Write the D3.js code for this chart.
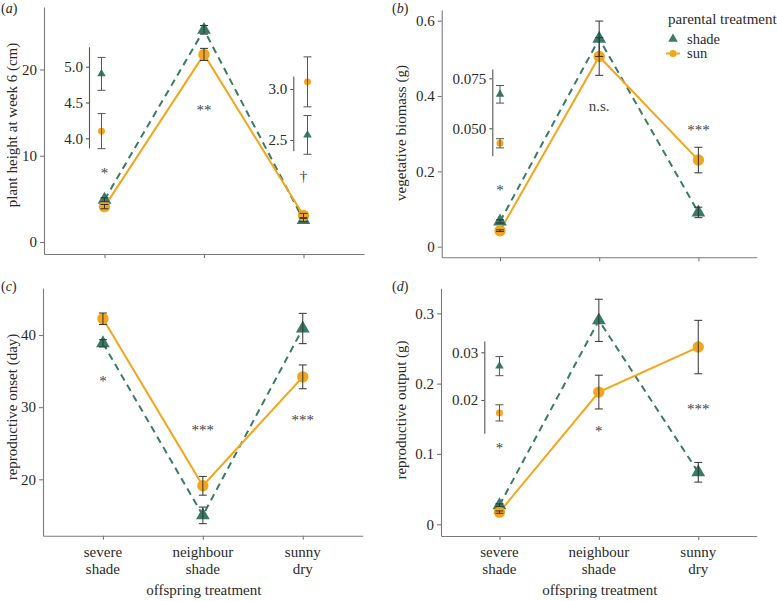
<!DOCTYPE html>
<html>
<head>
<meta charset="utf-8">
<script src="https://cdn.jsdelivr.net/npm/d3@7"></script>
<style>
  html, body { margin: 0; padding: 0; background: #fff; }
  svg, svg text { font-family: 'Liberation Serif', 'Times New Roman', Times, serif; }
</style>
</head>
<body>
<svg id="chart" width="777" height="601"></svg>
<script>
// ---------------- data ----------------
const categories = ["severe shade", "neighbour shade", "sunny dry"];
const categoryLines = [["severe", "shade"], ["neighbour", "shade"], ["sunny", "dry"]];
const seriesNames = ["shade", "sun"];

const heightShade = [4.9, 24.6, 2.55];
const heightShadeSE = [0.23, 0.5, 0.19];
const heightSun = [4.1, 21.75, 3.07];
const heightSunSE = [0.245, 0.7, 0.245];

const biomassShade = [0.067, 0.552, 0.091];
const biomassShadeSE = [0.0044, 0.047, 0.014];
const biomassSun = [0.0425, 0.505, 0.23];
const biomassSunSE = [0.0023, 0.05, 0.034];

const onsetShade = [38.85, 15.0, 40.9];
const onsetShadeSE = [0.5, 1.15, 2.1];
const onsetSun = [42.25, 19.1, 34.2];
const onsetSunSE = [0.8, 1.3, 1.65];

const outputShade = [0.0271, 0.290, 0.074];
const outputShadeSE = [0.002, 0.03, 0.014];
const outputSun = [0.0173, 0.188, 0.252];
const outputSunSE = [0.0017, 0.024, 0.038];

const heightTicks = [0, 10, 20];
const biomassTicks = [0, 0.2, 0.4, 0.6];
const onsetTicks = [20, 30, 40];
const outputTicks = [0, 0.1, 0.2, 0.3];

const heightSig = ["*", "**", "\u2020"];
const biomassSig = ["*", "n.s.", "***"];
const onsetSig = ["*", "***", "***"];
const outputSig = ["*", "*", "***"];

// ---------------- styles ----------------
const GREEN = "#3a7b65";
const ORANGE = "#f3a61c";
const AXIS = "#7a7a7a";
const TEXT = "#2a2a2a";
const FONT = "'Liberation Serif', 'Times New Roman', Times, serif";
const FS = 15;

const svg = d3.select("#chart");

// ---------------- layout ----------------
const panels = [
  { label: "a", title: "plant height at week 6 (cm)", xr: [44, 364], pad: 0.608,
    ref: [0, 242, 20, 69.5], ext: [254, 7], ticks: heightTicks, fmt: d3.format("d"),
    shade: heightShade, shadeSE: heightShadeSE, sun: heightSun, sunSE: heightSunSE,
    sig: heightSig, sigY: [8.3, 15.6, 7.5], labelPos: [1, 13], titlePos: [17, 125], xLabels: false,
    insets: [
      { idx: 0, axisX: 89, dx: -3, ref: [4.0, 138.3, 5.0, 66.7], ext: [148, 46.7], ticks: [4.0, 4.5, 5.0], fmt: d3.format(".1f") },
      { idx: 2, axisX: 293.3, dx: 4, ref: [2.5, 140, 3.0, 89], ext: [150.7, 76], ticks: [2.5, 3.0], fmt: d3.format(".1f") }
    ] },
  { label: "b", title: "vegetative biomass (g)", xr: [441.7, 756.7], pad: 0.588,
    ref: [0, 246.7, 0.6, 20.7], ext: [257.3, 10], ticks: biomassTicks, fmt: v => v === 0 ? "0" : d3.format(".1f")(v),
    shade: biomassShade, shadeSE: biomassShadeSE, sun: biomassSun, sunSE: biomassSunSE,
    sig: biomassSig, sigY: [0.159, 0.370, 0.317], labelPos: [392, 13], titlePos: [406, 133], xLabels: false,
    insets: [
      { idx: 0, axisX: 492.3, dx: 0, ref: [0.05, 128.3, 0.075, 78.3], ext: [155.7, 69], ticks: [0.05, 0.075], fmt: d3.format(".3f") }
    ] },
  { label: "c", title: "reproductive onset (day)", xr: [43, 362.7], pad: 0.6,
    ref: [20, 479.3, 40, 335], ext: [535.7, 288], ticks: onsetTicks, fmt: d3.format("d"),
    shade: onsetShade, shadeSE: onsetShadeSE, sun: onsetSun, sunSE: onsetSunSE,
    sig: onsetSig, sigY: [34.0, 27.3, 28.7], labelPos: [1, 291], titlePos: [17, 407], xLabels: true,
    insets: [] },
  { label: "d", title: "reproductive output (g)", xr: [441, 756.7], pad: 0.588,
    ref: [0, 524.3, 0.3, 313.3], ext: [536, 288.3], ticks: outputTicks, fmt: v => v === 0 ? "0" : d3.format(".1f")(v),
    shade: outputShade, shadeSE: outputShadeSE, sun: outputSun, sunSE: outputSunSE,
    sig: outputSig, sigY: [0.113, 0.137, 0.168], labelPos: [392, 291], titlePos: [406, 410], xLabels: true,
    insets: [
      { idx: 0, axisX: 484.3, dx: 0, ref: [0.02, 400, 0.03, 352.3], ext: [433.3, 341], ticks: [0.02, 0.03], fmt: d3.format(".2f") }
    ] }
];

function refScale(ref, ext) {
  const s0 = d3.scaleLinear().domain([ref[0], ref[2]]).range([ref[1], ref[3]]);
  return d3.scaleLinear().domain([s0.invert(ext[0]), s0.invert(ext[1])]).range(ext);
}

function styleAxis(g, color) {
  g.attr("font-family", FONT).attr("font-size", FS);
  g.selectAll("path.domain").attr("stroke", color).attr("stroke-width", 1.1);
  g.selectAll(".tick line").attr("stroke", color).attr("stroke-width", 1.1);
  g.selectAll(".tick text").attr("fill", TEXT).attr("font-size", FS).attr("font-family", FONT);
}

function txt(sel) {
  return sel.append("text").attr("font-family", FONT).attr("font-size", FS).attr("fill", TEXT);
}

const triMain = d3.symbol().type(d3.symbolTriangle).size(82);
const cirMain = d3.symbol().type(d3.symbolCircle).size(102);
const triSmall = d3.symbol().type(d3.symbolTriangle).size(32);
const cirSmall = d3.symbol().type(d3.symbolCircle).size(38);

function errorBars(g, xs, ys, vals, ses, cap, color) {
  vals.forEach((v, i) => {
    const cx = xs(i), y1 = ys(v + ses[i]), y2 = ys(v - ses[i]);
    g.append("line").attr("x1", cx).attr("x2", cx).attr("y1", y1).attr("y2", y2)
      .attr("stroke", color).attr("stroke-width", 1);
    [y1, y2].forEach(yy => g.append("line").attr("x1", cx - cap / 2).attr("x2", cx + cap / 2)
      .attr("y1", yy).attr("y2", yy).attr("stroke", color).attr("stroke-width", 1));
  });
}

panels.forEach(p => {
  const g = svg.append("g");
  const x = d3.scalePoint().domain(categories).range(p.xr).padding(p.pad);
  const y = refScale(p.ref, p.ext);
  const xi = i => x(categories[i]);

  // y axis
  const gy = g.append("g").attr("transform", `translate(${p.xr[0]},0)`)
    .call(d3.axisLeft(y).tickValues(p.ticks).tickFormat(p.fmt).tickSizeOuter(0).tickSizeInner(4).tickPadding(3));
  styleAxis(gy, AXIS);

  // x axis
  const gx = g.append("g").attr("transform", `translate(0,${p.ext[0]})`)
    .call(d3.axisBottom(x).tickSizeOuter(0).tickSizeInner(4).tickFormat(""));
  styleAxis(gx, AXIS);
  if (p.xLabels) {
    categories.forEach((c, i) => {
      const t = txt(g).attr("x", xi(i)).attr("text-anchor", "middle");
      categoryLines[i].forEach((ln, k) => {
        t.append("tspan").attr("x", xi(i)).attr("y", p.ext[0] + 21 + k * 17).text(ln);
      });
    });
    txt(g).attr("x", (p.xr[0] + p.xr[1]) / 2 + 1).attr("y", p.ext[0] + 59)
      .attr("text-anchor", "middle").text("offspring treatment");
  }

  // y title
  txt(g).attr("transform", `translate(${p.titlePos[0]},${p.titlePos[1]}) rotate(-90)`)
    .attr("text-anchor", "middle").text(p.title);

  // panel label
  const lab = txt(g).attr("x", p.labelPos[0]).attr("y", p.labelPos[1]).attr("font-size", 14);
  lab.append("tspan").text("(");
  lab.append("tspan").attr("font-style", "italic").text(p.label);
  lab.append("tspan").text(")");

  // lines
  const line = d3.line().x((d, i) => xi(i)).y(d => y(d));
  g.append("path").datum(p.shade).attr("d", line).attr("fill", "none")
    .attr("stroke", GREEN).attr("stroke-width", 2).attr("stroke-dasharray", "7,5");
  g.append("path").datum(p.sun).attr("d", line).attr("fill", "none")
    .attr("stroke", ORANGE).attr("stroke-width", 2);

  // points
  p.shade.forEach((v, i) => g.append("path").attr("d", triMain)
    .attr("transform", `translate(${xi(i)},${y(v)})`).attr("fill", GREEN));
  p.sun.forEach((v, i) => g.append("path").attr("d", cirMain)
    .attr("transform", `translate(${xi(i)},${y(v)})`).attr("fill", ORANGE));

  // error bars
  errorBars(g, xi, y, p.shade, p.shadeSE, 8, "#333");
  errorBars(g, xi, y, p.sun, p.sunSE, 8, "#333");

  // significance
  p.sig.forEach((s, i) => {
    const off = s.indexOf("*") >= 0 ? 8 : 4;
    txt(g).attr("x", xi(i)).attr("y", y(p.sigY[i]) + off)
      .attr("text-anchor", "middle").attr("fill", "#444").text(s);
  });

  // insets
  p.insets.forEach(ins => {
    const ys = refScale(ins.ref, ins.ext);
    const gi = g.append("g").attr("transform", `translate(${ins.axisX},0)`)
      .call(d3.axisLeft(ys).tickValues(ins.ticks).tickFormat(ins.fmt).tickSizeOuter(0).tickSizeInner(3).tickPadding(3));
    styleAxis(gi, "#555");
    const px = () => xi(ins.idx) + ins.dx;
    const i0 = ins.idx;
    g.append("path").attr("d", triSmall).attr("transform", `translate(${px()},${ys(p.shade[i0])})`).attr("fill", GREEN);
    g.append("path").attr("d", cirSmall).attr("transform", `translate(${px()},${ys(p.sun[i0])})`).attr("fill", ORANGE);
    errorBars(g, px, ys, [p.shade[i0]], [p.shadeSE[i0]], 8, "#555");
    errorBars(g, px, ys, [p.sun[i0]], [p.sunSE[i0]], 8, "#555");
  });
});

// legend
const lg = svg.append("g").attr("transform", "translate(668,0)");
txt(lg).attr("x", 0).attr("y", 24).text("parental treatment");
seriesNames.forEach((s, i) => {
  const cy = 39 + i * 14.5;
  if (s === "sun") {
    lg.append("line").attr("x1", -2).attr("x2", 12).attr("y1", cy).attr("y2", cy)
      .attr("stroke", ORANGE).attr("stroke-width", 2);
    lg.append("path").attr("d", d3.symbol().type(d3.symbolCircle).size(40)).attr("transform", `translate(5,${cy})`).attr("fill", ORANGE);
  } else {
    lg.append("path").attr("d", d3.symbol().type(d3.symbolTriangle).size(40)).attr("transform", `translate(5,${cy})`).attr("fill", GREEN);
  }
  txt(lg).attr("x", 19).attr("y", cy + 4.5).attr("font-size", 14.5).text(s);
});
</script>
</body>
</html>
